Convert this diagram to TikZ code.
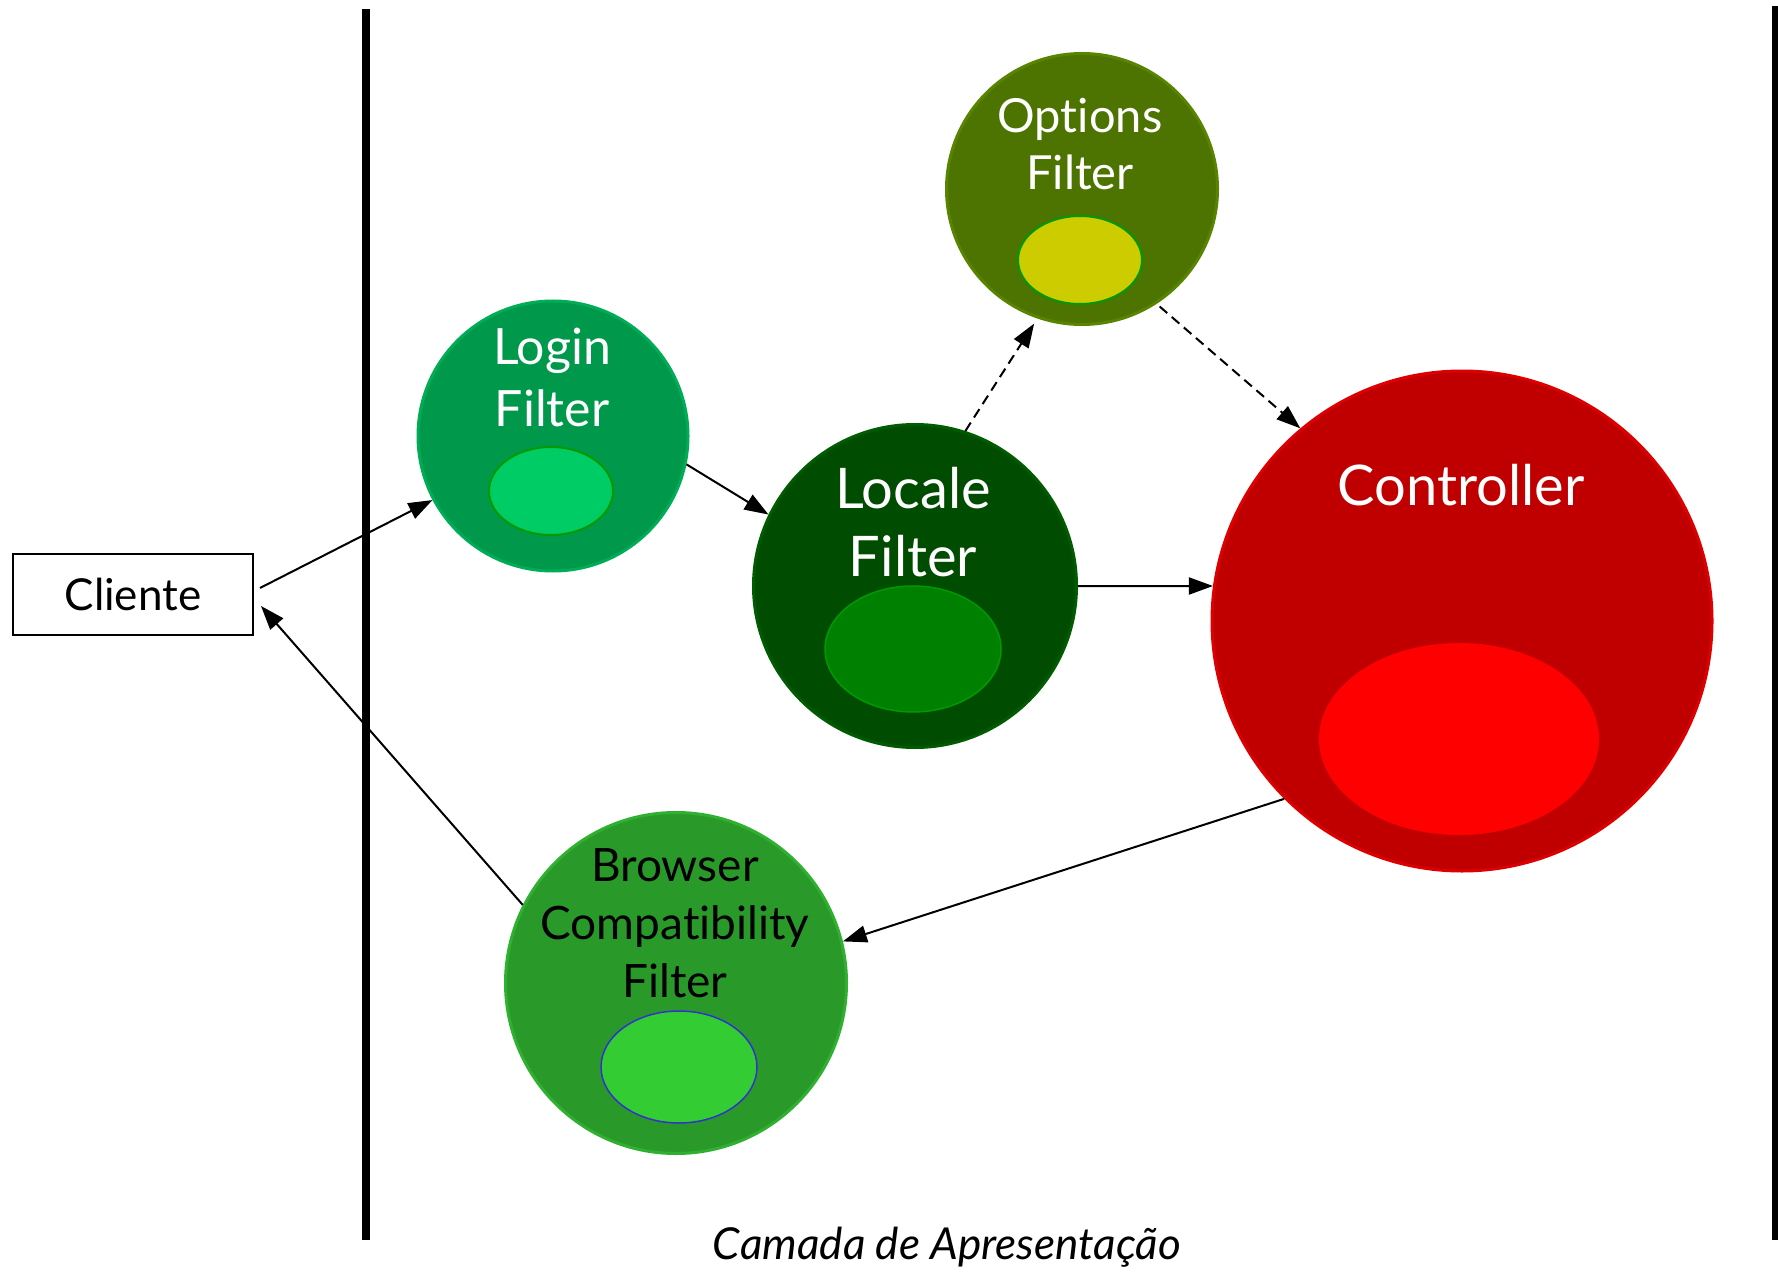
\documentclass[tikz,border=0pt]{standalone}
\usepackage{fontspec}
\setmainfont{Lato}[Ligatures={NoCommon,NoRare,NoContextual}]
\usetikzlibrary{arrows.meta}

\definecolor{loginfill}{RGB}{0,153,76}
\definecolor{loginrim}{RGB}{0,172,86}
\definecolor{logincore}{RGB}{0,204,102}
\definecolor{localefill}{RGB}{0,76,0}
\definecolor{localerim}{RGB}{0,92,0}
\definecolor{localecore}{RGB}{0,128,0}
\definecolor{optfill}{RGB}{77,115,0}
\definecolor{optrim}{RGB}{88,132,0}
\definecolor{optcore}{RGB}{204,204,0}
\definecolor{ctrlfill}{RGB}{192,0,0}
\definecolor{ctrlrim}{RGB}{220,0,0}
\definecolor{ctrlcore}{RGB}{255,0,0}
\definecolor{brwfill}{RGB}{41,154,41}
\definecolor{brwrim}{RGB}{48,176,48}
\definecolor{brwcore}{RGB}{51,204,51}
\definecolor{coreedge}{RGB}{0,153,0}
\definecolor{blueedge}{RGB}{51,51,204}

\begin{document}
\begin{tikzpicture}[x=1pt,y=-1pt,
  bubble/.style={circle, inner sep=0pt, line width=3pt},
  label/.style={align=center, inner sep=0pt},
  conn/.style={line width=2pt, -{Triangle[length=24pt,width=17pt]}},
  dashconn/.style={conn, dash pattern=on 10pt off 6pt},
  divider/.style={line width=8pt}
]
\useasboundingbox (0,0) rectangle (1778,1273);

% layer dividers
\draw[divider] (366,9) -- (366,1240);
\draw[line width=6pt] (1775,6) -- (1775,1240);

% client box
\node[draw, line width=2pt, minimum width=240pt, minimum height=81pt, inner sep=0pt,
      font=\fontsize{44}{52}\selectfont] (cliente) at (133,594) {Cliente};

% filter bubbles
\node[bubble, fill=loginfill, draw=loginrim, minimum size=270pt] (login) at (553,436) {};
\draw[fill=logincore, draw=coreedge, line width=2pt] (551,491) ellipse [x radius=62, y radius=44];
\node[label, text=white, font=\fontsize{50}{62}\selectfont] (logintext) at (552,377) {Login\\Filter};

\node[bubble, fill=optfill, draw=optrim, minimum size=271pt] (options) at (1082,189) {};
\draw[fill=optcore, draw=coreedge, line width=2pt] (1080,260) ellipse [x radius=62, y radius=44];
\node[label, text=white, font=\fontsize{47}{57}\selectfont] (optionstext) at (1080,144) {Opt\kern0pt ions\\Filter};

\node[bubble, fill=localefill, draw=localerim, minimum size=323pt] (locale) at (915,586) {};
\draw[fill=localecore, draw=coreedge, line width=1.5pt] (913,649) ellipse [x radius=88, y radius=63];
\node[label, text=white, font=\fontsize{56}{68}\selectfont] (localetext) at (913,522) {Locale\\Filter};

\node[bubble, fill=ctrlfill, draw=ctrlrim, minimum size=500pt] (controller) at (1462,621) {};
\fill[ctrlcore] (1459,739) ellipse [x radius=140, y radius=96];
\node[label, text=white, font=\fontsize{56}{66}\selectfont] (ctrltext) at (1461,485) {Controller};

\node[bubble, fill=brwfill, draw=brwrim, minimum size=341pt] (browser) at (676,983) {};
\draw[fill=brwcore, draw=blueedge, line width=1.5pt] (679,1067) ellipse [x radius=78, y radius=56];
\node[label, text=black, font=\fontsize{46}{58}\selectfont] (brwtext) at (675,923) {Browser\\Compat\kern0pt ibility\\Filter};

% request / response flow
\draw[conn] ([xshift=6pt,yshift=6pt]cliente.east) -- (login.208);
\draw[conn] (login.-12) -- (locale.154);
\draw[conn] (locale.0) -- (controller.172);
\draw[dashconn, shorten >=6pt] (locale.72) -- (options.251);
\draw[dashconn, shorten <=4pt] (options.-57) -- (controller.130);
\draw[conn] (controller.225) -- (browser.14);
\draw[conn] (browser.153) -- ([xshift=7pt,yshift=-12pt]cliente.east);

% layer caption
\node[label, font=\fontsize{44}{52}\selectfont\itshape] (caption) at (947,1247) {Camada de Apresentação};
\end{tikzpicture}
\end{document}
